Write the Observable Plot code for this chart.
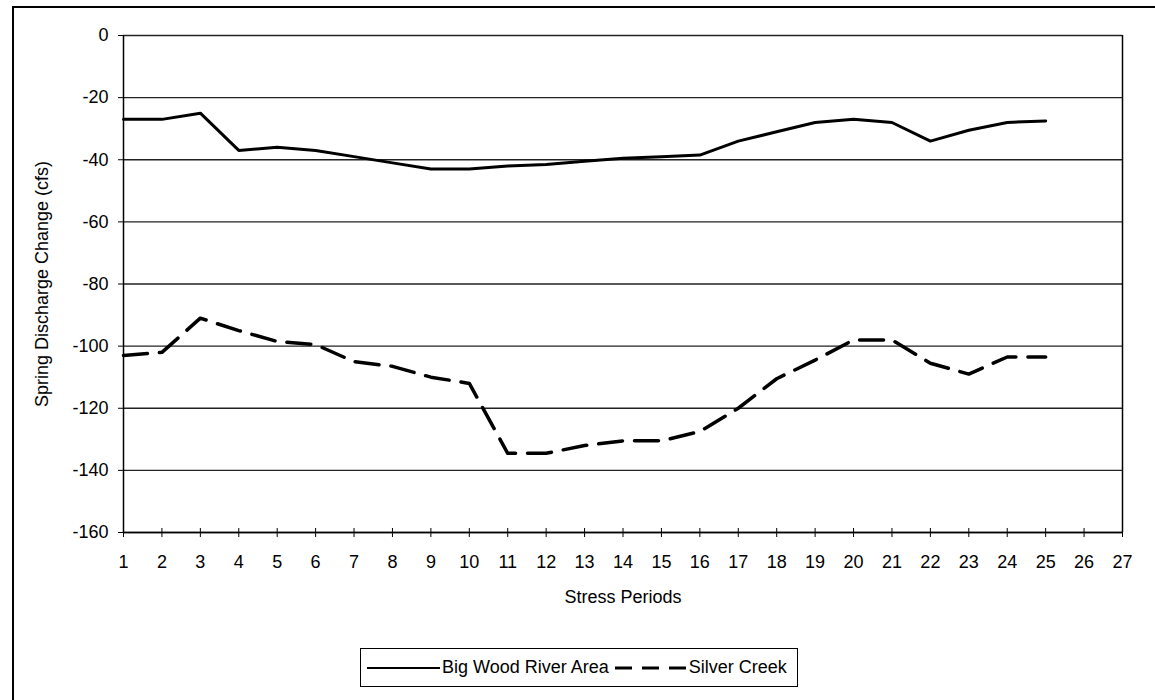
<!DOCTYPE html>
<html>
<head>
<meta charset="utf-8">
<script src="https://cdn.jsdelivr.net/npm/d3@7"></script>
<script src="https://cdn.jsdelivr.net/npm/@observablehq/plot@0.6"></script>
<style>
  html, body { margin: 0; padding: 0; background: #fff; }
  body { width: 1155px; height: 700px; position: relative; overflow: hidden; font-family: "Liberation Sans", Arial, sans-serif; }
  #frame { position: absolute; left: 12px; top: 6px; width: 1150px; height: 700px; border-top: 2px solid #000; border-left: 2px solid #000; pointer-events: none; }
  #chart { position: absolute; left: 0; top: 0; }
  #legend { position: absolute; left: 360px; top: 648px; width: 436px; height: 37px; border: 1.5px solid #000; display: flex; align-items: center; font-size: 18px; color: #000; box-sizing: content-box; white-space: nowrap; }
  #legend .item { display: flex; align-items: center; }
  #legend svg { display: block; }
</style>
</head>
<body>
<div id="chart"></div>
<div id="frame"></div>
<div id="legend"></div>
<script>
const periods = [1,2,3,4,5,6,7,8,9,10,11,12,13,14,15,16,17,18,19,20,21,22,23,24,25];
const bigWood = [-27,-27,-25,-37,-36,-37,-39,-41,-43,-43,-42,-41.5,-40.5,-39.5,-39,-38.5,-34,-31,-28,-27,-28,-34,-30.5,-28,-27.5];
const silverCreek = [-103,-102,-91,-95,-98.5,-99.5,-105,-106.5,-110,-112,-134.5,-134.5,-132,-130.5,-130.5,-127.5,-120,-110.5,-104.5,-98,-98,-105.5,-109,-103.5,-103.5];
const xTicks = [1,2,3,4,5,6,7,8,9,10,11,12,13,14,15,16,17,18,19,20,21,22,23,24,25,26,27];
const yTicks = [0,-20,-40,-60,-80,-100,-120,-140,-160];
const seriesNames = ["Big Wood River Area", "Silver Creek"];
const xLabel = "Stress Periods";
const yLabel = "Spring Discharge Change (cfs)";

const rows = [];
periods.forEach((p, i) => {
  rows.push({period: p, value: bigWood[i], series: seriesNames[0]});
  rows.push({period: p, value: silverCreek[i], series: seriesNames[1]});
});

const plot = Plot.plot({
  width: 1155,
  height: 640,
  marginLeft: 123,
  marginRight: 33,
  marginTop: 35,
  marginBottom: 108,
  style: {fontFamily: "'Liberation Sans', Arial, sans-serif", fontSize: "18px", color: "#000", background: "#fff"},
  x: {domain: [1, 27]},
  y: {domain: [-160, 0]},
  marks: [
    Plot.ruleY(yTicks, {stroke: "#222", strokeWidth: 1.3}),
    Plot.ruleX([1, 27], {stroke: "#000", strokeWidth: 1.5}),
    Plot.axisY({ticks: yTicks, tickFormat: d => String(d), tickSize: 5, tickPadding: 10, fontSize: 18, label: yLabel, labelAnchor: "center", labelOffset: 88, labelArrow: "none"}),
    Plot.axisX({ticks: xTicks, tickFormat: d => String(d), tickSize: 5, tickPadding: 18, fontSize: 18, label: xLabel, labelAnchor: "center", labelOffset: 70, labelArrow: "none"}),
    Plot.axisX({ticks: xTicks, tickSize: -4, text: null, label: null}),
    Plot.ruleY([-160], {stroke: "#000", strokeWidth: 1.5}),
    Plot.line(rows.filter(d => d.series === seriesNames[0]), {x: "period", y: "value", stroke: "#000", strokeWidth: 3}),
    Plot.line(rows.filter(d => d.series === seriesNames[1]), {x: "period", y: "value", stroke: "#000", strokeWidth: 3.5, strokeDasharray: "24,12"})
  ]
});
document.getElementById("chart").appendChild(plot);

// legend
const legend = document.getElementById("legend");
function swatch(dash, w) {
  const ns = "http://www.w3.org/2000/svg";
  const s = document.createElementNS(ns, "svg");
  s.setAttribute("width", w); s.setAttribute("height", 10);
  const l = document.createElementNS(ns, "line");
  l.setAttribute("x1", 0); l.setAttribute("x2", w); l.setAttribute("y1", 5); l.setAttribute("y2", 5);
  l.setAttribute("stroke", "#000");
  l.setAttribute("stroke-width", dash ? 3 : 2);
  if (dash) l.setAttribute("stroke-dasharray", "17,10");
  s.appendChild(l);
  return s;
}
const it1 = document.createElement("div"); it1.className = "item";
const sw1 = swatch(false, 73); sw1.style.marginLeft = "6px"; sw1.style.marginRight = "2px";
it1.appendChild(sw1);
const t1 = document.createElement("span"); t1.textContent = seriesNames[0]; it1.appendChild(t1);
const it2 = document.createElement("div"); it2.className = "item";
const sw2 = swatch(true, 72); sw2.style.marginLeft = "6px"; sw2.style.marginRight = "2px";
it2.appendChild(sw2);
const t2 = document.createElement("span"); t2.textContent = seriesNames[1]; it2.appendChild(t2);
legend.appendChild(it1); legend.appendChild(it2);
</script>
</body>
</html>
